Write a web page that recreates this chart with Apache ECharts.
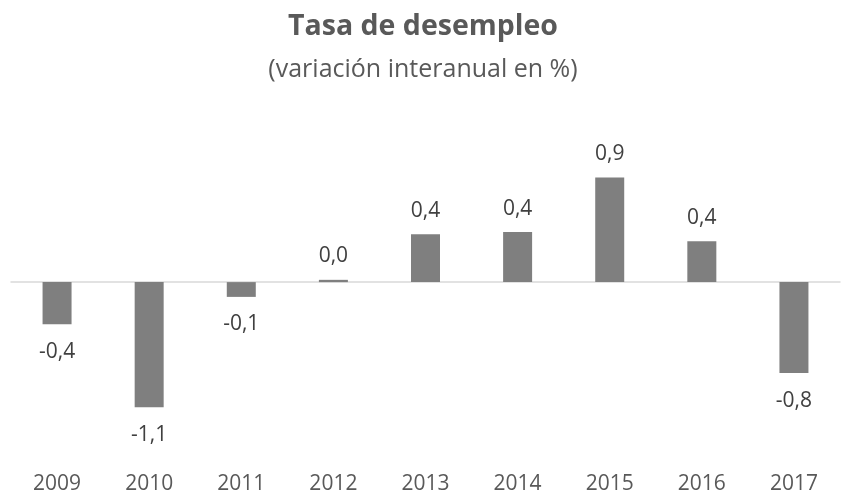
<!DOCTYPE html>
<html>
<head>
<meta charset="utf-8">
<script src="https://cdn.jsdelivr.net/npm/echarts@6/dist/echarts.min.js"></script>
<style>
  html, body { margin: 0; padding: 0; background: #fff; }
  #chart { width: 846px; height: 495px; }
</style>
</head>
<body>
<div id="chart"></div>
<script>
// años y variación de la tasa de desempleo
const years = ['2009', '2010', '2011', '2012', '2013', '2014', '2015', '2016', '2017']
const values = [-0.37, -1.1, -0.13, 0.02, 0.42, 0.44, 0.92, 0.36, -0.8]

const chart = echarts.init(document.getElementById('chart'))

const fmt = v => v.toFixed(1).replace('.', ',')

// etiqueta arriba o abajo según el signo
const barData = values.map(v => ({
  value: v,
  label: {
    position: v < 0 ? 'bottom' : 'top',
    distance: v < 0 ? 17 : 13
  }
}))

const option = {
  animation: false,
  title: [
    {
      text: 'Tasa de desempleo',
      left: 'center',
      top: 7,
      textStyle: { fontFamily: 'Open Sans', fontSize: 28.5, fontWeight: 'bold', color: '#595959' }
    },
    {
      text: '(variación interanual en %)',
      left: 'center',
      top: 52,
      textStyle: { fontFamily: 'Open Sans', fontSize: 25, fontWeight: 'normal', color: '#595959' }
    }
  ],
  grid: {
    top: 145.7,
    left: 11,
    right: 6,
    bottom: 29.6
  },
  xAxis: [
    {
      // línea del cero
      type: 'category',
      data: years,
      axisLine: { show: true, onZero: true, lineStyle: { color: '#d9d9d9', width: 1.5 } },
      axisTick: { show: false },
      axisLabel: { show: false },
      splitLine: { show: false }
    },
    {
      // etiquetas de los años abajo
      type: 'category',
      data: years,
      position: 'bottom',
      axisLine: { show: false, onZero: false },
      axisTick: { show: false },
      axisLabel: { show: true, margin: 10, color: '#595959', fontSize: 21, fontFamily: 'Open Sans' },
      splitLine: { show: false }
    }
  ],
  yAxis: {
    type: 'value',
    min: -1.6,
    max: 1.2,
    show: false
  },
  series: [
    {
      type: 'bar',
      xAxisIndex: 0,
      data: barData,
      barWidth: 29,
      itemStyle: { color: '#7f7f7f' },
      label: {
        show: true,
        color: '#404040',
        fontSize: 21,
        fontFamily: 'Open Sans',
        formatter: p => fmt(p.value)
      }
    }
  ]
}

chart.setOption(option)
</script>
</body>
</html>
